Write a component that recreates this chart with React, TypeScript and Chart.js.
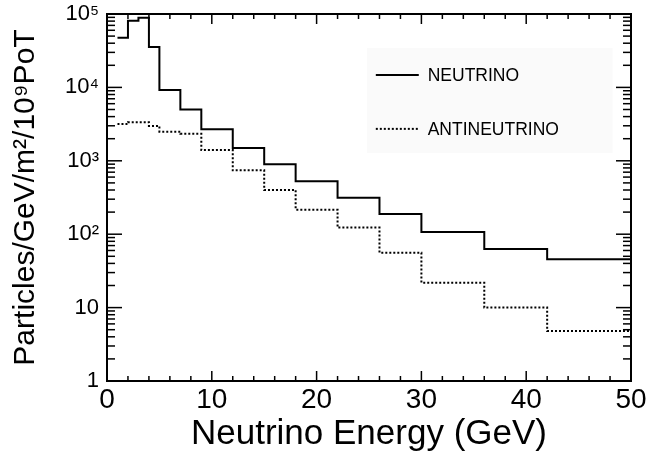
import React, { useEffect, useRef } from "react";
import { Chart, registerables } from "chart.js";

Chart.register(...registerables);

// ---- data ----
const binEdges = [1, 2, 3, 4, 5, 7, 9, 12, 15, 18, 22, 26, 30, 36, 42, 50];
const neutrino = [47500, 81000, 89000, 35500, 9200, 5000, 2700, 1490, 900, 525, 314, 188, 107, 63, 45.5];
const antineutrino = [3170, 3350, 3350, 2980, 2490, 2340, 1400, 742, 400, 216, 123, 56, 21.8, 10, 4.8];
const seriesLabels = ["NEUTRINO", "ANTINEUTRINO"];
const xTickValues = [0, 10, 20, 30, 40, 50];
const xTickLabels = ["0", "10", "20", "30", "40", "50"];
const yTickValues = [1, 10, 100, 1000, 10000, 100000];
const yTickLabels = ["1", "10", "10²", "10³", "10⁴", "10⁵"];
const xTitle = "Neutrino Energy (GeV)";
const yTitle = "Particles/GeV/m²/10⁹PoT";

const FONT = "'Liberation Sans', Arial, Helvetica, sans-serif";

function toSteps(vals: number[]) {
  return binEdges.map((e, i) => ({ x: e, y: vals[Math.min(i, vals.length - 1)] }));
}

const framePlugin = {
  id: "rootFrame",
  afterDatasetsDraw(chart: any) {
    const { ctx, chartArea, scales } = chart;
    const { left, right, top, bottom } = chartArea;
    const x = scales.x;
    const y = scales.y;
    ctx.save();
    ctx.strokeStyle = "#000";
    ctx.lineWidth = 1.5;
    const line = (x1: number, y1: number, x2: number, y2: number) => {
      ctx.beginPath();
      ctx.moveTo(x1, y1);
      ctx.lineTo(x2, y2);
      ctx.stroke();
    };
    for (let v = x.min; v <= x.max + 1e-9; v += 2) {
      const px = x.getPixelForValue(v);
      const len = v % 10 === 0 ? 10 : 5;
      line(px, bottom, px, bottom - len);
      line(px, top, px, top + len);
    }
    const dMin = Math.round(Math.log10(y.min));
    const dMax = Math.round(Math.log10(y.max));
    for (let d = dMin; d <= dMax; d++) {
      for (let m = 1; m <= 9; m++) {
        const v = m * Math.pow(10, d);
        if (v > y.max * 1.0001) break;
        const py = y.getPixelForValue(v);
        const len = m === 1 ? 15 : 8;
        line(left, py, left + len, py);
        line(right, py, right - len, py);
      }
    }
    ctx.lineWidth = 2;
    ctx.strokeRect(left, top, right - left, bottom - top);
    ctx.restore();
  },
};

const legendPlugin = {
  id: "rootLegend",
  afterDatasetsDraw(chart: any) {
    const { ctx, chartArea } = chart;
    const { left, right, top, bottom } = chartArea;
    const w = right - left;
    const h = bottom - top;
    const bx1 = left + w * 0.496;
    const bx2 = left + w * 0.965;
    const by1 = top + h * 0.093;
    const by2 = top + h * 0.379;
    ctx.save();
    ctx.fillStyle = "#fafafa";
    ctx.fillRect(bx1, by1, bx2 - bx1, by2 - by1);
    const rows = [top + h * 0.166, top + h * 0.313];
    chart.data.datasets.forEach((ds: any, i: number) => {
      const ry = rows[i];
      ctx.strokeStyle = ds.borderColor;
      ctx.lineWidth = ds.borderWidth;
      ctx.setLineDash(ds.borderDash || []);
      ctx.beginPath();
      ctx.moveTo(left + w * 0.513, ry);
      ctx.lineTo(left + w * 0.595, ry);
      ctx.stroke();
      ctx.setLineDash([]);
      ctx.fillStyle = "#000";
      ctx.font = `17.5px ${FONT}`;
      ctx.textBaseline = "middle";
      ctx.textAlign = "left";
      ctx.fillText(ds.label, left + w * 0.612, ry + 1);
    });
    ctx.restore();
  },
};

export default function App() {
  const ref = useRef<HTMLCanvasElement | null>(null);
  useEffect(() => {
    if (!ref.current) return;
    const chart = new Chart(ref.current, {
      type: "line",
      data: {
        datasets: [
          {
            label: seriesLabels[0],
            data: toSteps(neutrino),
            borderColor: "#000",
            borderWidth: 2,
            stepped: "before",
            pointRadius: 0,
            fill: false,
          },
          {
            label: seriesLabels[1],
            data: toSteps(antineutrino),
            borderColor: "#000",
            borderWidth: 2,
            borderDash: [2, 2],
            stepped: "before",
            pointRadius: 0,
            fill: false,
          },
        ],
      },
      options: {
        animation: false,
        responsive: false,
        devicePixelRatio: 1,
        layout: { padding: { top: 14, right: 23, left: 0, bottom: 0 } },
        plugins: { legend: { display: false }, tooltip: { enabled: false } },
        scales: {
          x: {
            type: "linear",
            min: 0,
            max: 50,
            afterBuildTicks: (s: any) => {
              s.ticks = xTickValues.map((v) => ({ value: v }));
            },
            afterFit: (s: any) => {
              s.height = 80;
              s.paddingLeft = 0;
              s.paddingRight = 0;
            },
            ticks: {
              callback: (v: any) => xTickLabels[xTickValues.indexOf(Number(v))],
              font: { family: FONT, size: 28 },
              color: "#000",
              padding: 2,
              maxRotation: 0,
              autoSkip: false,
            },
            grid: { display: false, drawTicks: false },
            border: { display: false },
            title: {
              display: true,
              text: xTitle,
              color: "#000",
              font: { family: FONT, size: 35 },
              padding: { top: 0, bottom: 6 },
            },
          },
          y: {
            type: "logarithmic",
            min: 1,
            max: 100000,
            afterBuildTicks: (s: any) => {
              s.ticks = yTickValues.map((v) => ({ value: v }));
            },
            afterFit: (s: any) => {
              s.width = 107;
              s.paddingTop = 0;
              s.paddingBottom = 0;
            },
            ticks: {
              callback: (v: any) => yTickLabels[yTickValues.indexOf(Number(v))],
              font: { family: FONT, size: 22 },
              color: "#000",
              padding: 8,
              autoSkip: false,
            },
            grid: { display: false, drawTicks: false },
            border: { display: false },
            title: {
              display: true,
              text: yTitle,
              color: "#000",
              font: { family: FONT, size: 30 },
              padding: { top: 8, bottom: 0 },
            },
          },
        },
      },
      plugins: [legendPlugin, framePlugin],
    } as any);
    return () => chart.destroy();
  }, []);
  return (
    <div style={{ position: "absolute", left: 0, top: 0, width: 654, height: 461, background: "#fff" }}>
      <canvas ref={ref} width={654} height={461} />
    </div>
  );
}
